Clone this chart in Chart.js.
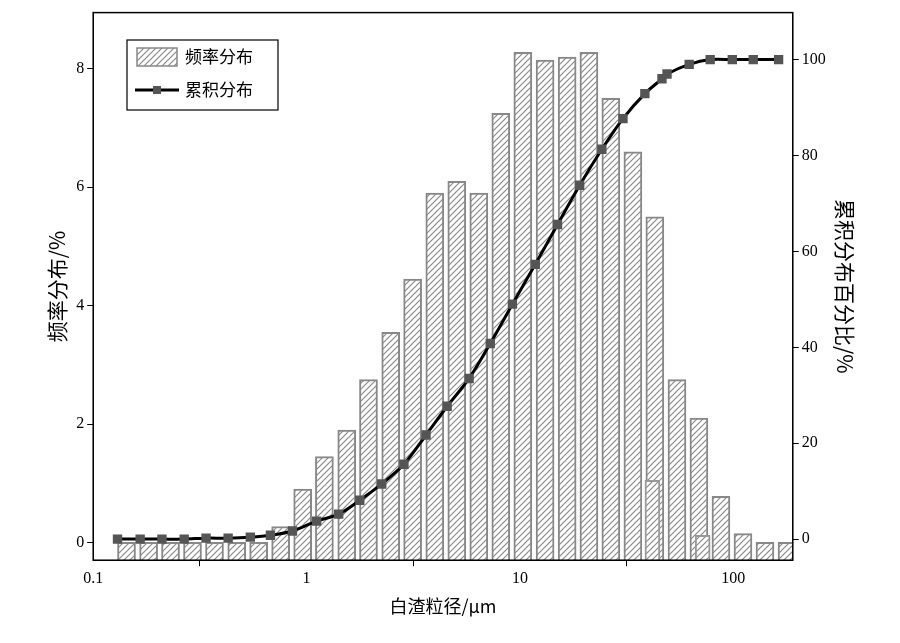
<!DOCTYPE html>
<html><head><meta charset="utf-8">
<script src="https://cdn.jsdelivr.net/npm/chart.js@4"></script>
<style>html,body{margin:0;background:#fff}#w{width:900px;height:643px}</style>
</head><body><div id="w"><canvas id="c"></canvas></div>
<script>
const barSizes=[0.130,0.165,0.209,0.265,0.336,0.427,0.541,0.686,0.87,1.10,1.40,1.77,2.25,2.85,3.62,4.59,5.82,7.38,9.36,11.9,15.1,19.1,24.2,30.7,38.9,49.4,62.6,79.4,100.7,127.7,162];
const freqValues=[0,0,0,0,0,0,0,0.27,0.9,1.45,1.9,2.75,3.55,4.45,5.9,6.1,5.9,7.25,8.28,8.15,8.2,8.28,7.5,6.6,5.5,2.75,2.1,0.78,0.15,0,0];
const extraSizes=[45.3,77.9];
const extraValues=[1.05,0.12];
const cumSizes=[0.130,0.166,0.210,0.267,0.338,0.429,0.545,0.677,0.859,1.115,1.414,1.776,2.25,2.86,3.63,4.56,5.78,7.26,9.22,11.8,15.0,19.05,24.2,30.4,38.5,46.3,48.9,62.1,77.9,98.9,124,163];
const cumValues=[0,0,0,0,0.2,0.2,0.4,0.8,1.7,3.75,5.2,8.1,11.5,15.6,21.7,27.7,33.5,40.8,49,57.3,65.6,73.8,81.3,87.7,92.9,96,97,99,100,100,100,100];
const xTicks=[0.1,1,10,100];
const leftTicks=[0,2,4,6,8];
const rightTicks=[0,20,40,60,80,100];

function hatch(){const p=document.createElement('canvas');p.width=6;p.height=6;const g=p.getContext('2d');
g.fillStyle='#fff';g.fillRect(0,0,6,6);g.strokeStyle='#8a8a8a';g.lineWidth=1.2;
g.beginPath();g.moveTo(0,6);g.lineTo(6,0);g.moveTo(-3,3);g.lineTo(3,-3);g.moveTo(3,9);g.lineTo(9,3);g.stroke();
return g.createPattern(p,'repeat');}
const pat=hatch();
const serif='"Liberation Serif","DejaVu Serif",serif';
const cjk='"Noto Sans CJK SC",sans-serif';

const frame={id:'frame',afterDraw(ch){const a=ch.chartArea,c=ch.ctx;c.save();c.strokeStyle='#000';c.lineWidth=1.5;c.strokeRect(a.left,a.top,a.right-a.left,a.bottom-a.top);
const x=127,y=40;c.lineWidth=1.2;c.strokeRect(x,y,151,70);
c.fillStyle=pat;c.fillRect(x+10,y+8,40,18);c.strokeStyle='#888';c.lineWidth=1.5;c.strokeRect(x+10,y+8,40,18);
c.strokeStyle='#000';c.lineWidth=3;c.beginPath();c.moveTo(x+8,y+50);c.lineTo(x+52,y+50);c.stroke();
c.fillStyle='#555';c.fillRect(x+26,y+46,8,8);
c.fillStyle='#000';c.font='17px '+cjk;c.textBaseline='middle';
c.fillText(ch.data.datasets[0].label,x+58,y+17);c.fillText(ch.data.datasets[2].label,x+58,y+50);
c.restore();}};

new Chart(document.getElementById('c'),{
data:{datasets:[
{type:'bar',label:'频率分布',data:barSizes.map((s,i)=>({x:s,y:freqValues[i]})),yAxisID:'y',backgroundColor:pat,borderColor:'#888',borderWidth:2,barThickness:18,base:-0.3,order:3},
{type:'bar',label:'extra',data:extraSizes.map((s,i)=>({x:s,y:extraValues[i]})),yAxisID:'y',backgroundColor:pat,borderColor:'#999',borderWidth:2,barThickness:15,base:-0.3,order:2},
{type:'line',label:'累积分布',data:cumSizes.map((s,i)=>({x:s,y:cumValues[i]})),yAxisID:'y2',borderColor:'#000',borderWidth:3,pointStyle:'rect',pointRadius:4.5,pointBackgroundColor:'#555',pointBorderColor:'#555',tension:0.3,order:1}
]},
options:{responsive:true,maintainAspectRatio:false,animation:false,
layout:{padding:{left:40,right:38,top:10,bottom:22}},
plugins:{legend:{display:false},tooltip:{enabled:false}},
scales:{
x:{type:'logarithmic',min:0.1,max:190,afterBuildTicks(ax){ax.ticks=xTicks.map(v=>({value:v}));},
ticks:{callback:v=>String(v),color:'#000',font:{family:serif,size:16},maxRotation:0,autoSkip:false},
grid:{drawOnChartArea:false,color:'#000',tickLength:6},border:{color:'#000'},
title:{display:true,text:'白渣粒径/μm',color:'#000',font:{family:cjk,size:18},padding:{top:4}}},
y:{position:'left',min:-0.3,max:8.95,afterBuildTicks(ax){ax.ticks=leftTicks.map(v=>({value:v}));},
ticks:{color:'#000',font:{family:serif,size:16}},grid:{drawOnChartArea:false,color:'#000',tickLength:6},border:{color:'#000'},
title:{display:true,text:'频率分布/%',color:'#000',font:{family:cjk,size:21}}},
y2:{position:'right',min:-4.4,max:109.8,afterBuildTicks(ax){ax.ticks=rightTicks.map(v=>({value:v}));},
ticks:{color:'#000',font:{family:serif,size:16}},grid:{drawOnChartArea:false,color:'#000',tickLength:6},border:{color:'#000'},
title:{display:true,text:'累积分布百分比/%',color:'#000',font:{family:cjk,size:21}}}
}},
plugins:[frame]});
</script></body></html>
